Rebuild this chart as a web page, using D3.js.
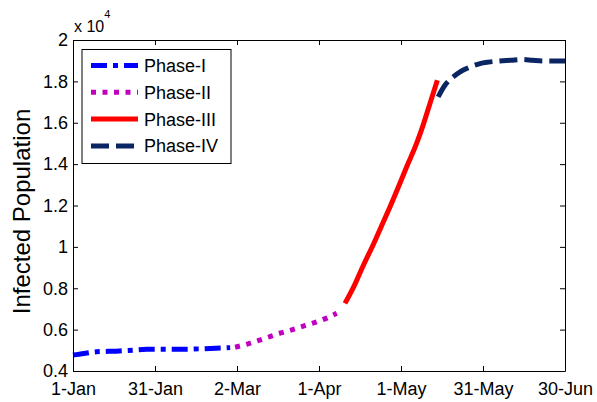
<!DOCTYPE html>
<html>
<head>
<meta charset="utf-8">
<script src="https://cdn.jsdelivr.net/npm/d3@7"></script>
<style>
  body { margin: 0; background: #fff; }
  text { font-family: "Liberation Sans", Arial, sans-serif; fill: #000; }
</style>
</head>
<body>
<script>

// day number counted from 1-Jan, infected population
var phase1Days = [0, 4, 8.7, 13, 17, 22, 27, 34, 40, 48, 57.5];
var phase1Vals = [4770, 4850, 4930, 4950, 4970, 5010, 5050, 5050, 5050, 5080, 5130];

var phase2Days = [59.3, 63.5, 68, 72, 76, 80.6, 85, 89.2, 93, 96.5];
var phase2Vals = [5150, 5290, 5480, 5660, 5840, 6010, 6200, 6380, 6570, 6790];

var phase3Days = [99.5, 103, 106.2, 110, 113, 116, 119, 122, 125.7, 128, 130.6, 133.3];
var phase3Vals = [7270, 8150, 9100, 10150, 11050, 11940, 12880, 13850, 15000, 15850, 16930, 18060];

var phase4Days = [133.6, 136, 139.1, 141.5, 144, 146.5, 148.9, 152, 156.2, 160, 164.7, 168, 172, 176, 180];
var phase4Vals = [17250, 17800, 18220, 18450, 18620, 18760, 18860, 18930, 18990, 19020, 19060, 19020, 18980, 18980, 18980];

var phaseNames = ["Phase-I", "Phase-II", "Phase-III", "Phase-IV"];

var xTickDays = [0, 30, 60, 90, 120, 150, 180];
var xTickLabels = ["1-Jan", "31-Jan", "2-Mar", "1-Apr", "1-May", "31-May", "30-Jun"];
var yTicks = [4000, 6000, 8000, 10000, 12000, 14000, 16000, 18000, 20000];

// styles for each phase
var phaseStyle = [
    { color: "#0000ff", dash: "16,6,5,6" },
    { color: "#c000c0", dash: "5,6.5" },
    { color: "#ff0000", dash: null },
    { color: "#0a2564", dash: "18,7" }
];

var W = 597, H = 402;
var margin = { top: 40, right: 32, bottom: 31, left: 73 };
var width = W - margin.left - margin.right,
    height = H - margin.top - margin.bottom;

var svg = d3.select("body").append("svg")
    .attr("width", W)
    .attr("height", H);

var g = svg.append("g")
    .attr("transform", "translate(" + margin.left + "," + margin.top + ")");

var x = d3.scaleLinear().domain([0, 180]).range([0, width]);
var y = d3.scaleLinear().domain([4000, 20000]).range([height, 0]);

var phases = [
    d3.zip(phase1Days, phase1Vals),
    d3.zip(phase2Days, phase2Vals),
    d3.zip(phase3Days, phase3Vals),
    d3.zip(phase4Days, phase4Vals)
];

var line = d3.line()
    .curve(d3.curveMonotoneX)
    .x(function(d) { return x(d[0]); })
    .y(function(d) { return y(d[1]); });

// data lines
phases.forEach(function(pts, i) {
    g.append("path")
        .attr("d", line(pts))
        .attr("fill", "none")
        .attr("stroke", phaseStyle[i].color)
        .attr("stroke-width", 5)
        .attr("stroke-linejoin", "round")
        .attr("stroke-dasharray", phaseStyle[i].dash);
});

// axes (ticks point inward, box all round)
var fmt = function(v) { return String(+(v / 10000).toFixed(1)); };

var xAxis = g.append("g")
    .attr("transform", "translate(0," + height + ")")
    .call(d3.axisBottom(x).tickValues(xTickDays).tickSizeInner(-5).tickSizeOuter(0).tickPadding(11)
        .tickFormat(function(d, i) { return xTickLabels[i]; }));

var yAxis = g.append("g")
    .call(d3.axisLeft(y).tickValues(yTicks).tickSizeInner(-5).tickSizeOuter(0).tickPadding(5)
        .tickFormat(fmt));

var topAxis = g.append("g")
    .call(d3.axisTop(x).tickValues(xTickDays).tickSizeInner(-5).tickSizeOuter(0).tickFormat(""));

var rightAxis = g.append("g")
    .attr("transform", "translate(" + width + ",0)")
    .call(d3.axisRight(y).tickValues(yTicks).tickSizeInner(-5).tickSizeOuter(0).tickFormat(""));

g.selectAll(".domain, .tick line").attr("stroke", "#000").attr("stroke-width", 1);
g.selectAll(".tick text").attr("font-size", 18).attr("font-family", "Liberation Sans, Arial, sans-serif");

// exponent label
var expo = svg.append("text")
    .attr("x", 74)
    .attr("y", 32)
    .attr("font-size", 16);
expo.append("tspan").text("x 10");
expo.append("tspan").attr("dy", -14).attr("font-size", 11).text("4");

// y axis title
svg.append("text")
    .attr("transform", "translate(30," + (margin.top + height / 2 + 6) + ") rotate(-90)")
    .attr("text-anchor", "middle")
    .attr("font-size", 24)
    .text("Infected Population");

// legend
var legend = svg.append("g")
    .attr("transform", "translate(82,49.5)");

legend.append("rect")
    .attr("width", 149)
    .attr("height", 114)
    .attr("fill", "#fff")
    .attr("stroke", "#000")
    .attr("stroke-width", 1);

phaseNames.forEach(function(name, i) {
    var ly = 16 + i * 26.8;
    legend.append("line")
        .attr("x1", 9).attr("x2", 56)
        .attr("y1", ly).attr("y2", ly)
        .attr("stroke", phaseStyle[i].color)
        .attr("stroke-width", 5)
        .attr("stroke-dasharray", phaseStyle[i].dash);
    legend.append("text")
        .attr("x", 62)
        .attr("y", ly + 6.5)
        .attr("font-size", 18)
        .text(name);
});

</script>
</body>
</html>
